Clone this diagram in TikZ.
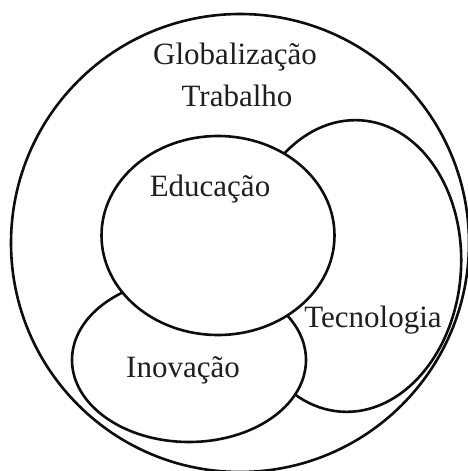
\documentclass[tikz,border=0pt]{standalone}
\usepackage{fontspec}
\setmainfont{Liberation Serif}
\begin{document}
\begin{tikzpicture}[x=1pt,y=1pt,
  shapeline/.style={line width=2.6pt, draw=black!95, fill=white},
  lbl/.style={anchor=base, inner sep=0pt, font=\fontsize{31}{31}\selectfont, text=black!88}]
\useasboundingbox (0,0) rectangle (468,471);
% outer circle
\filldraw[shapeline] (240,228) circle [radius=229];
% Tecnologia ellipse
\filldraw[shapeline, rotate around={-4:(351,205)}] (351,205) ellipse [x radius=110, y radius=146];
% Inovacao ellipse
\filldraw[shapeline] (189,111) ellipse [x radius=117, y radius=82];
% Educacao ellipse
\filldraw[shapeline] (218,235.5) ellipse [x radius=116.5, y radius=99.5];
% labels
\node[lbl] (glob) at (235,406) {Globalização};
\node[lbl] (trab) at (237,364) {Trabalho};
\node[lbl] (edu) at (210,274) {Educação};
\node[lbl] (tec) at (373,143) {Tecnologia};
\node[lbl] (ino) at (183,93) {Inovação};
\end{tikzpicture}
\end{document}
